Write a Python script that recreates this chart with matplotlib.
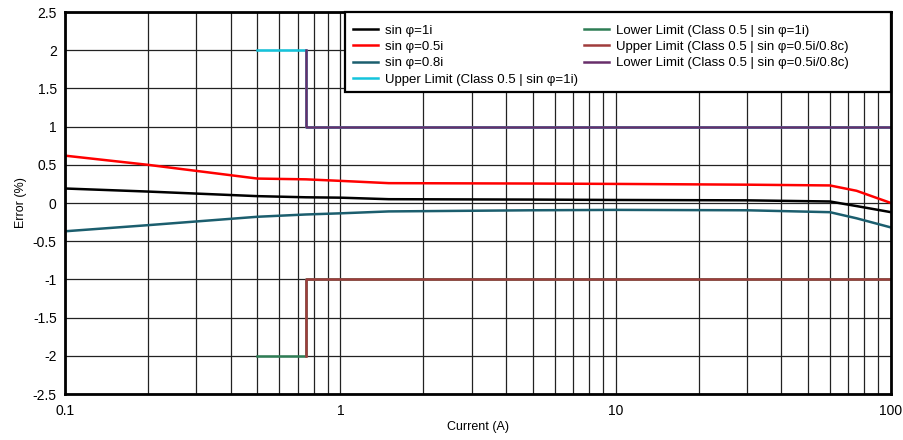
import matplotlib
matplotlib.use("Agg")
import matplotlib.pyplot as plt
from matplotlib.ticker import FixedLocator, NullFormatter
from matplotlib.patches import Rectangle

plt.rcParams['font.family'] = ['Liberation Sans', 'DejaVu Sans']
plt.rcParams['axes.unicode_minus'] = False

current = [0.1, 0.2, 0.5, 0.75, 1, 1.5, 5, 10, 30, 60, 75, 100]
err_sin1 = [0.19, 0.15, 0.09, 0.075, 0.07, 0.05, 0.045, 0.04, 0.035, 0.02, -0.04, -0.12]
err_sin05 = [0.62, 0.50, 0.32, 0.31, 0.29, 0.26, 0.255, 0.25, 0.24, 0.23, 0.16, 0.0]
err_sin08 = [-0.37, -0.29, -0.18, -0.15, -0.135, -0.11, -0.095, -0.09, -0.095, -0.12, -0.20, -0.32]

lim_x = [0.5, 0.75, 0.75, 100]
upper_1i = [2, 2, 1, 1]
lower_1i = [-2, -2, -1, -1]
lim2_x = [0.75, 0.75, 100]
upper_05i = [-2, -1, -1]
lower_05i = [2, 1, 1]

labels = ["sin φ=1i", "sin φ=0.5i", "sin φ=0.8i",
          "Upper Limit (Class 0.5 | sin φ=1i)",
          "Lower Limit (Class 0.5 | sin φ=1i)",
          "Upper Limit (Class 0.5 | sin φ=0.5i/0.8c)",
          "Lower Limit (Class 0.5 | sin φ=0.5i/0.8c)"]
colors = ["#000000", "#FF0000", "#1B5E6E", "#14C4DC", "#2E7D55", "#A03C3C", "#682E6A"]

fig = plt.figure(figsize=(9.04, 4.4), dpi=100)
ax = fig.add_axes([0.0719, 0.1045, 0.9137, 0.8682])

lw = 1.8
ax.plot(current, err_sin1, color=colors[0], lw=lw, label=labels[0], zorder=5)
ax.plot(current, err_sin05, color=colors[1], lw=lw, label=labels[1], zorder=5)
ax.plot(current, err_sin08, color=colors[2], lw=lw, label=labels[2], zorder=5)
ax.plot(lim_x, upper_1i, color=colors[3], lw=lw, label=labels[3], zorder=4)
ax.plot(lim_x, lower_1i, color=colors[4], lw=lw, label=labels[4], zorder=4)
ax.plot(lim2_x, upper_05i, color=colors[5], lw=lw, label=labels[5], zorder=4.5)
ax.plot(lim2_x, lower_05i, color=colors[6], lw=lw, label=labels[6], zorder=4.5)

ax.set_xscale('log')
ax.set_xlim(0.1, 100)
ax.set_ylim(-2.5, 2.5)
ax.set_xticks([0.1, 1, 10, 100])
ax.set_xticklabels(["0.1", "1", "10", "100"])
minor = [m * 10.0 ** e for e in (-1, 0, 1) for m in range(2, 10)]
ax.xaxis.set_minor_locator(FixedLocator(minor))
ax.xaxis.set_minor_formatter(NullFormatter())
yt = [-2.5, -2, -1.5, -1, -0.5, 0, 0.5, 1, 1.5, 2, 2.5]
ax.set_yticks(yt)
ax.set_yticklabels([("%g" % v) for v in yt])

ax.grid(True, which='both', axis='x', color='#222222', lw=0.9, zorder=1)
ax.grid(True, which='major', axis='y', color='#222222', lw=0.9, zorder=1)
ax.tick_params(axis='y', which='both', length=0, labelsize=10, pad=6)
ax.tick_params(axis='x', which='both', length=0, labelsize=10, pad=7)
for s in ax.spines.values():
    s.set_linewidth(2)
    s.set_zorder(10)

ax.set_xlabel("Current (A)", fontsize=9, labelpad=2)
ax.set_ylabel("Error (%)", fontsize=9, labelpad=4)

# legend box (frame drawn separately to match reference padding)
box_x0 = 0.339
box_y0 = 0.7906
box = Rectangle((box_x0, box_y0), 1 - box_x0, 1 - box_y0, transform=ax.transAxes,
                facecolor='white', edgecolor='black', lw=1.6, zorder=19, clip_on=False)
ax.add_patch(box)

leg = ax.legend(ncol=2, loc='upper left', bbox_to_anchor=(box_x0 - 0.002, 0.991),
                borderaxespad=0, fontsize=9.5, frameon=False,
                handlelength=1.9, labelspacing=0.3, columnspacing=0.5,
                borderpad=0.7, handletextpad=0.53)
leg.set_zorder(20)

fig.savefig("out.png", dpi=100)
